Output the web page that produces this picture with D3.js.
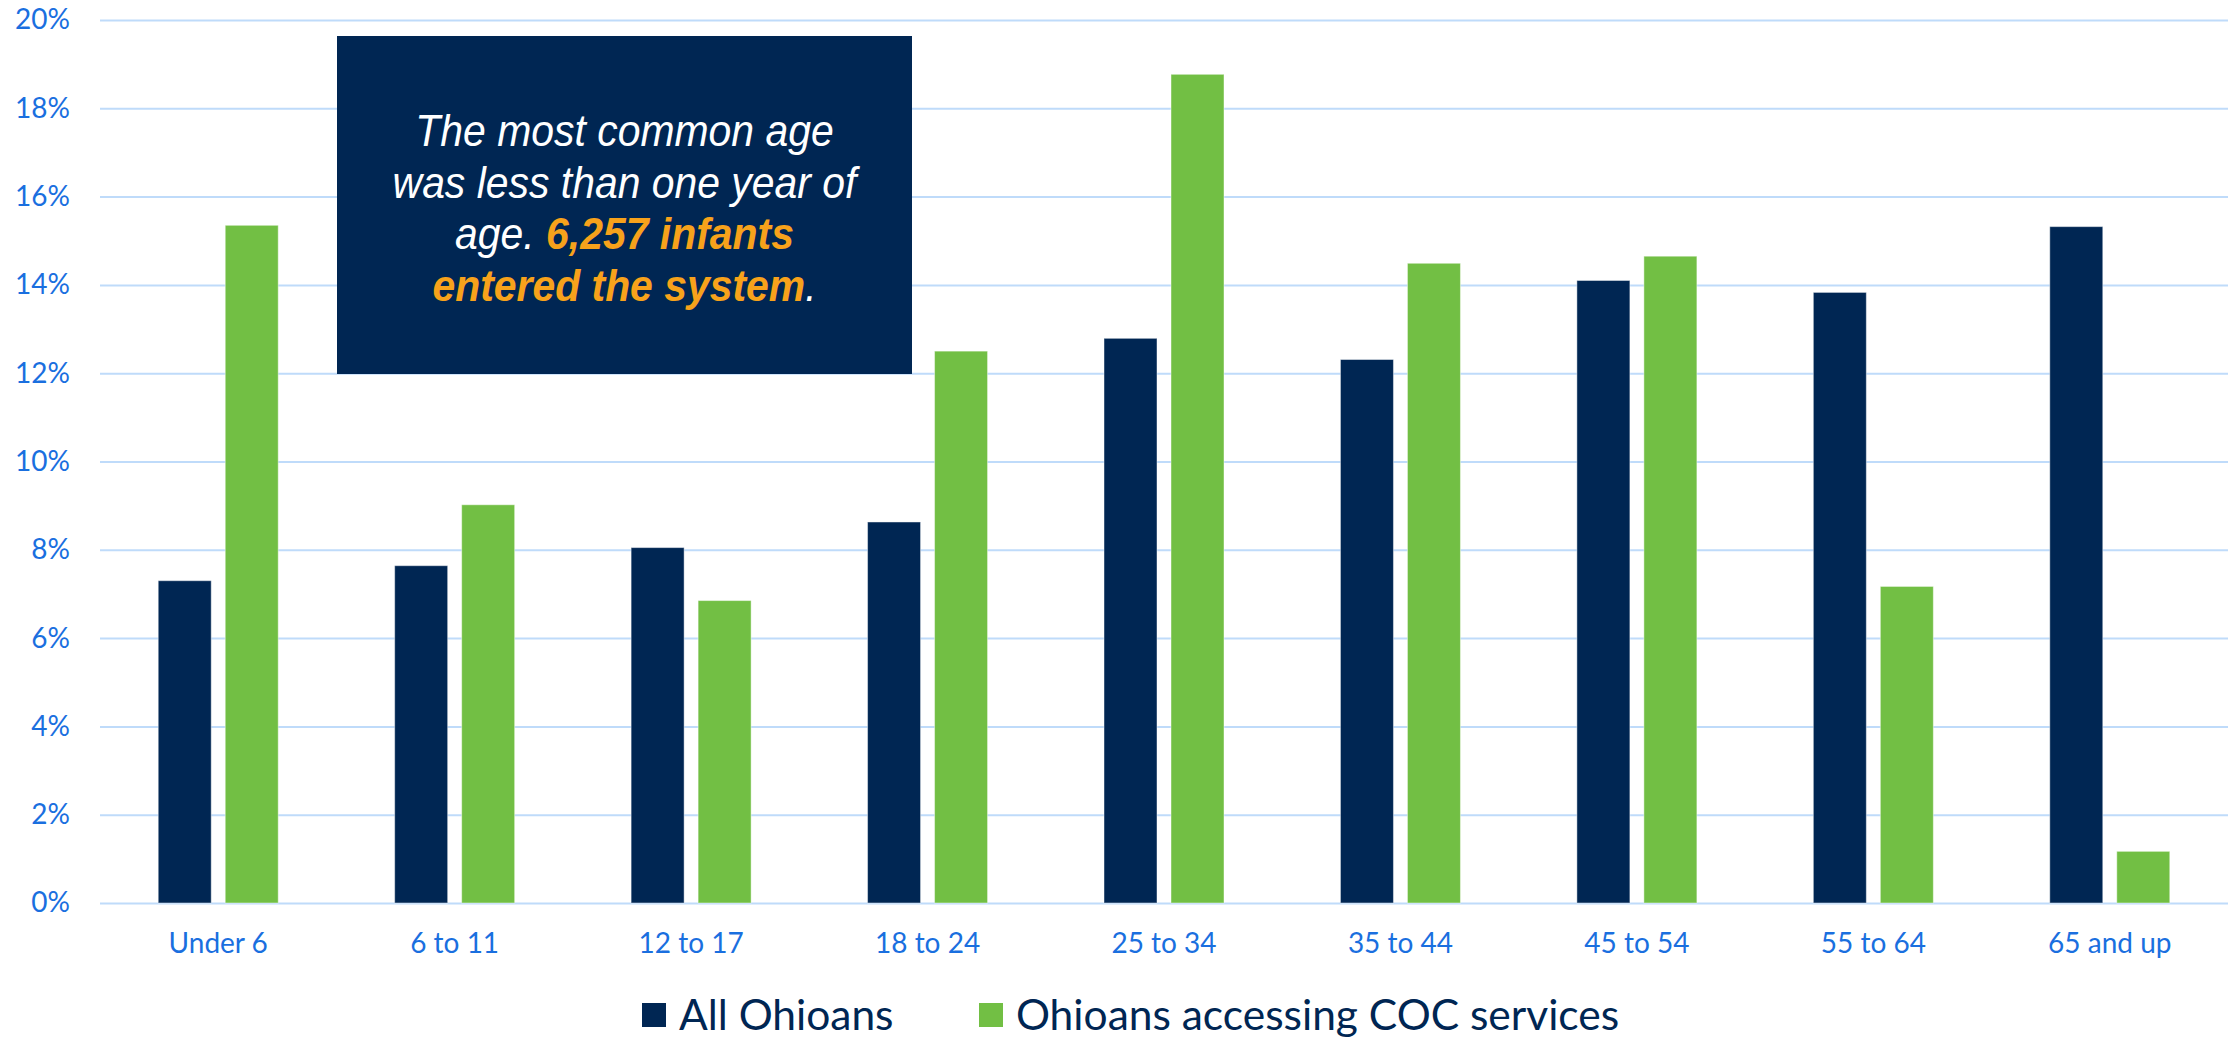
<!DOCTYPE html>
<html>
<head>
<meta charset="utf-8">
<script src="https://cdn.jsdelivr.net/npm/d3@7"></script>
<style>
  body { margin: 0; background: #fff; }
  .axis--y line { stroke: #bfdbfa; stroke-width: 2; }
  .axis text { fill: #1a6fdf; font-family: Lato, "Open Sans", sans-serif; font-size: 28px; }
  .legend text { fill: #002653; font-family: Lato, "Open Sans", sans-serif; font-size: 42.5px; }
  .note text { font-family: "Liberation Sans", Arial, sans-serif; font-size: 44px; font-style: italic; }
</style>
</head>
<body>
<div class="chart"></div>
<script>
var categories = ["Under 6", "6 to 11", "12 to 17", "18 to 24", "25 to 34", "35 to 44", "45 to 54", "55 to 64", "65 and up"];
var seriesNames = ["All Ohioans", "Ohioans accessing COC services"];
var allOhioans = [7.30, 7.64, 8.05, 8.63, 12.79, 12.31, 14.10, 13.83, 15.32];
var cocServices = [15.35, 9.02, 6.85, 12.50, 18.77, 14.49, 14.65, 7.17, 1.17];
var yTicks = [0, 2, 4, 6, 8, 10, 12, 14, 16, 18, 20];

// annotation lines, each a list of [text, highlighted]
var noteLines = [
  [["The most common age", false]],
  [["was less than one year of", false]],
  [["age. ", false], ["6,257 infants", true]],
  [["entered the system", true], [".", false]]
];

var colors = ["#002653", "#72bf44"];

var margin = {top: 20, right: 9, bottom: 135, left: 100},
    width = 2237 - margin.left - margin.right,
    height = 1038 - margin.top - margin.bottom;

var svg = d3.select(".chart").append("svg")
    .attr("width", width + margin.left + margin.right)
    .attr("height", height + margin.top + margin.bottom)
  .append("g")
    .attr("transform", "translate(" + margin.left + "," + margin.top + ")");

var x = d3.scaleBand()
    .domain(categories)
    .range([0, width]);

var xSub = d3.scaleBand()
    .domain(seriesNames)
    .range([0, 120])
    .paddingInner(14 / 67);

var y = d3.scaleLinear()
    .domain([0, 20])
    .range([height, 0]);

svg.append("g")
    .attr("class", "axis axis--y")
    .call(d3.axisLeft(y).tickValues(yTicks).tickSize(-width).tickPadding(30)
      .tickFormat(function(d) { return d + "%"; }))
    .call(function(g) { g.select(".domain").remove(); });

svg.append("g")
    .attr("class", "axis axis--x")
    .attr("transform", "translate(0," + height + ")")
    .call(d3.axisBottom(x).tickSize(0).tickPadding(30))
    .call(function(g) { g.select(".domain").remove(); });

var rows = categories.map(function(c, i) {
  return {cat: c, values: [allOhioans[i], cocServices[i]]};
});

var groups = svg.selectAll(".group")
    .data(rows)
  .enter().append("g")
    .attr("class", "group")
    .attr("transform", function(d) {
      return "translate(" + (x(d.cat) + x.bandwidth() / 2 - 60) + ",0)";
    });

groups.selectAll("rect")
    .data(function(d) {
      return d.values.map(function(v, j) { return {name: seriesNames[j], value: v, color: colors[j]}; });
    })
  .enter().append("rect")
    .attr("x", function(d) { return xSub(d.name); })
    .attr("width", xSub.bandwidth())
    .attr("y", function(d) { return y(d.value); })
    .attr("height", function(d) { return height - y(d.value); })
    .attr("fill", function(d) { return d.color; })
    .attr("stroke", "#ffffff")
    .attr("stroke-opacity", 0.45)
    .attr("stroke-width", 1);

// annotation box
var note = svg.append("g")
    .attr("class", "note")
    .attr("transform", "translate(237,16)");

note.append("rect")
    .attr("width", 575)
    .attr("height", 338)
    .attr("fill", "#002653");

// text is a little condensed in the original
var noteText = note.selectAll("text")
    .data(noteLines)
  .enter().append("text")
    .attr("transform", function(d, i) { return "translate(287.5," + (110 + i * 51.5) + ") scale(0.93,1)"; })
    .attr("text-anchor", "middle");

noteText.selectAll("tspan")
    .data(function(d) { return d; })
  .enter().append("tspan")
    .attr("fill", function(d) { return d[1] ? "#f7a21b" : "#ffffff"; })
    .attr("font-weight", function(d) { return d[1] ? "bold" : "normal"; })
    .style("white-space", "pre")
    .text(function(d) { return d[0]; });

// legend
var legend = svg.append("g")
    .attr("class", "legend")
    .attr("transform", "translate(0," + (height + 100) + ")");

var legendX = [542, 879];

var items = legend.selectAll(".item")
    .data(seriesNames)
  .enter().append("g")
    .attr("class", "item")
    .attr("transform", function(d, i) { return "translate(" + legendX[i] + ",0)"; });

items.append("rect")
    .attr("width", 24)
    .attr("height", 24)
    .attr("fill", function(d, i) { return colors[i]; });

items.append("text")
    .attr("x", 37)
    .attr("y", 27)
    .text(function(d) { return d; });
</script>
</body>
</html>
